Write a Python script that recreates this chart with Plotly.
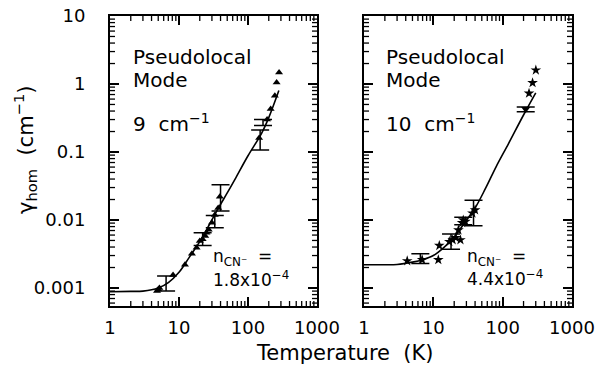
import plotly.graph_objects as go

# ---------------- data ----------------
# Left panel (9 cm^-1, n = 1.8e-4): triangles
left_T = [4.8, 5.0, 5.2, 8.2, 12.2, 15.4, 18, 20, 22, 24, 25, 27, 30, 33, 37, 39, 145, 189, 213, 245, 260, 282]
left_g = [0.0009, 0.00095, 0.001, 0.00155, 0.0022, 0.0032, 0.0039, 0.0049, 0.0052, 0.0058, 0.0065, 0.0072,
          0.0091, 0.0118, 0.015, 0.022, 0.16, 0.3, 0.43, 0.67, 1.05, 1.47]
left_err_T = [6.5, 22, 33, 40, 150, 165]
left_err_lo = [0.0009, 0.0042, 0.0077, 0.0135, 0.107, 0.245]
left_err_hi = [0.0015, 0.0065, 0.0116, 0.033, 0.21, 0.3]
left_fit_T = [1, 2, 3, 5, 7, 10, 14, 20, 28, 37, 50, 65, 100, 158, 200, 280]
left_fit_g = [0.00088, 0.00089, 0.0009, 0.001, 0.0012, 0.0017, 0.0028, 0.0048, 0.0088, 0.0148, 0.025, 0.04,
              0.088, 0.19, 0.32, 0.8]

# Right panel (10 cm^-1, n = 4.4e-4): stars
right_T = [4.2, 6.9, 11.8, 12.2, 17, 19, 21, 24.6, 23, 26, 27, 29, 36.6, 40, 240, 270, 301]
right_g = [0.0025, 0.0026, 0.0026, 0.0042, 0.0048, 0.0051, 0.0055, 0.0051, 0.0071, 0.0091, 0.01, 0.0095,
           0.0126, 0.014, 0.73, 1.04, 1.6]
right_err_T = [6.5, 18, 27, 38, 215]
right_err_lo = [0.0023, 0.0037, 0.0085, 0.0082, 0.39]
right_err_hi = [0.0032, 0.0062, 0.011, 0.0195, 0.46]
right_tri_T = [215]
right_tri_g = [0.43]
right_fit_T = [1, 2, 3, 5, 7, 10, 14, 20, 28, 40, 57, 80, 122, 200, 300]
right_fit_g = [0.0022, 0.0022, 0.00222, 0.0024, 0.0026, 0.003, 0.0039, 0.0056, 0.009, 0.015, 0.0296, 0.06,
               0.134, 0.35, 0.74]

x_ticks = [1, 10, 100, 1000]
x_ticktext = ["1", "10", "100", "1000"]
y_ticks = [0.001, 0.01, 0.1, 1, 10]
y_ticktext = ["0.001", "0.01", "0.1", "1", "10"]
x_minor = [m * 10 ** d for d in range(0, 3) for m in range(2, 10)]
y_minor = [m * 10.0 ** d for d in range(-4, 1) for m in range(2, 10) if m * 10.0 ** d > 0.00055]

FONT = "DejaVu Sans"
W, H = 600, 366


def px(x):
    return x / W


def py(y):
    return 1 - y / H


XR = [0, 3]
YR = [-3.265, 1]
L_PX, R_PX, R2L_PX, R2R_PX = 110, 317, 364, 572
TOP_PX, BOT_PX = 16, 306
xdomL = [px(L_PX), px(R_PX)]
xdomR = [px(R2L_PX), px(R2R_PX)]
ydom = [py(BOT_PX), py(TOP_PX)]
PLOT_H = BOT_PX - TOP_PX


def err_trace(T, lo, hi, xa, ya):
    center = [(a * b) ** 0.5 for a, b in zip(lo, hi)]
    plus = [h - c for h, c in zip(hi, center)]
    minus = [c - l for c, l in zip(center, lo)]
    return go.Scatter(x=T, y=center, mode="markers", xaxis=xa, yaxis=ya,
                      marker=dict(size=1, color="rgba(0,0,0,0)"),
                      error_y=dict(type="data", array=plus, arrayminus=minus, symmetric=False,
                                   width=9, thickness=1.5, color="black"),
                      showlegend=False, hoverinfo="skip")


fig = go.Figure()

MINOR_LEN, MINOR_W = 5, 1.3


def minor_tick_traces(xa, ya, plot_w):
    """Short inward minor ticks (2..9 per decade) on all four sides of a log-log panel."""
    dy = MINOR_LEN / PLOT_H * (YR[1] - YR[0])
    b0, b1 = 10 ** YR[0], 10 ** (YR[0] + dy)
    t0, t1 = 10 ** YR[1], 10 ** (YR[1] - dy)
    xs, ys = [], []
    for v in x_minor:
        xs += [v, v, None, v, v, None]
        ys += [b0, b1, None, t0, t1, None]
    fig.add_trace(go.Scatter(x=xs, y=ys, mode="lines", xaxis=xa, yaxis=ya, cliponaxis=False,
                             line=dict(color="black", width=MINOR_W), showlegend=False, hoverinfo="skip"))
    dx = MINOR_LEN / plot_w * (XR[1] - XR[0])
    l0, l1 = 10 ** XR[0], 10 ** (XR[0] + dx)
    r0, r1 = 10 ** XR[1], 10 ** (XR[1] - dx)
    xs, ys = [], []
    for v in y_minor:
        xs += [l0, l1, None, r0, r1, None]
        ys += [v, v, None, v, v, None]
    fig.add_trace(go.Scatter(x=xs, y=ys, mode="lines", xaxis=xa, yaxis=ya, cliponaxis=False,
                             line=dict(color="black", width=MINOR_W), showlegend=False, hoverinfo="skip"))


minor_tick_traces("x", "y", R_PX - L_PX)
minor_tick_traces("x2", "y2", R2R_PX - R2L_PX)

# left panel
fig.add_trace(go.Scatter(x=left_fit_T, y=left_fit_g, mode="lines", line=dict(color="black", width=1.6, shape="spline"),
                         xaxis="x", yaxis="y", showlegend=False))
fig.add_trace(err_trace(left_err_T, left_err_lo, left_err_hi, "x", "y"))
fig.add_trace(go.Scatter(x=left_T, y=left_g, mode="markers", xaxis="x", yaxis="y",
                         marker=dict(symbol="triangle-up", size=7, color="black"), showlegend=False))
# right panel
fig.add_trace(go.Scatter(x=right_fit_T, y=right_fit_g, mode="lines", line=dict(color="black", width=1.6, shape="spline"),
                         xaxis="x2", yaxis="y2", showlegend=False))
fig.add_trace(err_trace(right_err_T, right_err_lo, right_err_hi, "x2", "y2"))
fig.add_trace(go.Scatter(x=right_T, y=right_g, mode="markers", xaxis="x2", yaxis="y2",
                         marker=dict(symbol="star", size=8, color="black"), showlegend=False))
fig.add_trace(go.Scatter(x=right_tri_T, y=right_tri_g, mode="markers", xaxis="x2", yaxis="y2",
                         marker=dict(symbol="triangle-down", size=8, color="black"), showlegend=False))

major = dict(type="log", showline=True, linewidth=2, linecolor="black", mirror="allticks",
             ticks="inside", ticklen=9, tickwidth=1.6, tickcolor="black",
             showgrid=False, zeroline=False, automargin=False, tickmode="array",
             tickfont=dict(family=FONT, size=18, color="black"))

fig.update_layout(
    width=W, height=H, margin=dict(l=0, r=0, t=0, b=0, pad=0), autosize=False,
    plot_bgcolor="white", paper_bgcolor="white",
    xaxis=dict(domain=xdomL, range=XR, anchor="y", tickvals=x_ticks, ticktext=x_ticktext,
               ticklabelstandoff=4, **major),
    yaxis=dict(domain=ydom, range=YR, anchor="x", tickvals=y_ticks, ticktext=y_ticktext,
               ticklabelstandoff=19, **major),
    xaxis2=dict(domain=xdomR, range=XR, anchor="y2", tickvals=x_ticks, ticktext=x_ticktext,
                ticklabelstandoff=4, **major),
    yaxis2=dict(domain=ydom, range=YR, anchor="x2", tickvals=y_ticks, showticklabels=False, **major),
)


def ann(text, x, y, size, xanchor="left", angle=0):
    fig.add_annotation(text=text, x=px(x), y=py(y), xref="paper", yref="paper", showarrow=False,
                       xanchor=xanchor, yanchor="middle", textangle=angle,
                       font=dict(family=FONT, size=size, color="black"))


ann("Pseudolocal", 131, 57, 20)
ann("Mode", 131, 80, 20)
ann("9  cm<sup>−1</sup>", 131, 123, 20)
ann("Pseudolocal", 384, 57, 20)
ann("Mode", 384, 80, 20)
ann("10  cm<sup>−1</sup>", 384, 123, 20)
ann("n<sub>CN⁻</sub>  =", 211, 257, 17)
ann("1.8x10<sup>−4</sup>", 211, 279, 17)
ann("n<sub>CN⁻</sub>  =", 465, 257, 17)
ann("4.4x10<sup>−4</sup>", 465, 278, 17)
ann("Temperature  (K)", 345, 353, 21, xanchor="center")
ann("γ<sub>hom</sub>  (cm<sup>−1</sup>)", 25, 150, 21, xanchor="center", angle=-90)

fig.write_html("out.html", post_script="document.body.style.margin='0';",
               config={"displayModeBar": False})
